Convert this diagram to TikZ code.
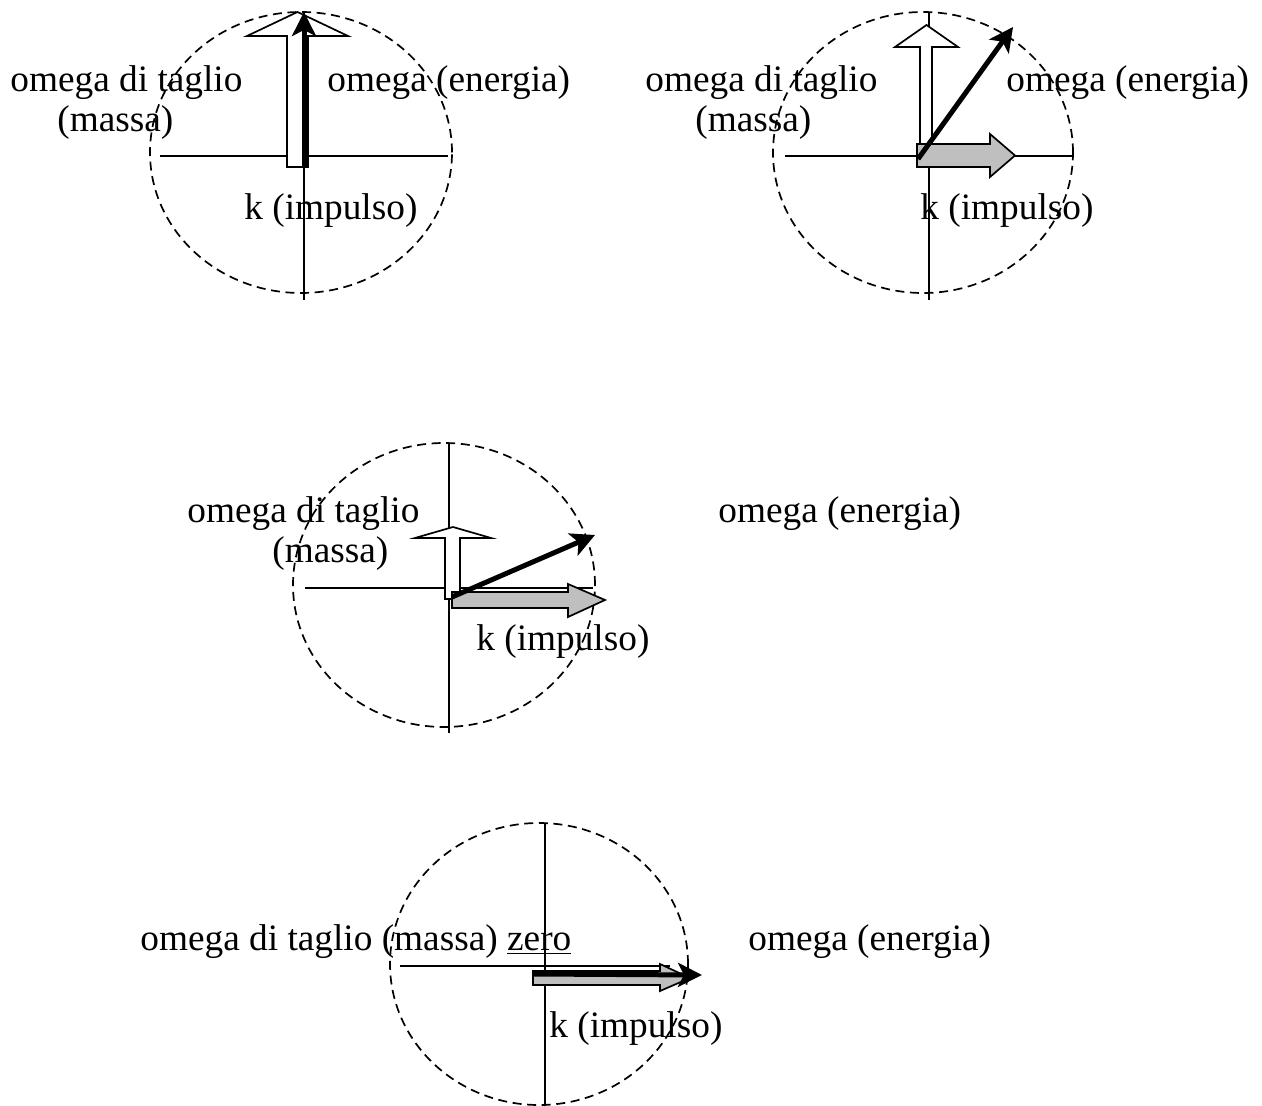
\documentclass[tikz,border=0pt]{standalone}
\usepackage{fontspec}
\setmainfont{Liberation Serif}
\usetikzlibrary{arrows.meta}
\tikzset{
  lbl/.style={inner sep=0pt, anchor=base west, font=\fontsize{18.65pt}{22pt}\selectfont},
  axis/.style={line width=0.85pt},
  ring/.style={line width=0.85pt, dash pattern=on 4.5pt off 2.8pt},
  whitearrow/.style={draw=black, fill=white, line width=0.85pt, line join=miter},
  grayarrow/.style={draw=black, fill=black!25, line width=0.85pt, line join=miter},
  omegaarrow/.style={line width=2.5pt, -{Stealth[length=12pt,width=12pt,inset=3pt]}}
}
\begin{document}
\begin{tikzpicture}[x=0.5pt,y=-0.5pt]
\useasboundingbox (0,0) rectangle (1262,1106);

% ---------- Diagram 1 ----------
\draw[ring] (301,152.5) ellipse [x radius=75.5pt, y radius=70.25pt];
\coordinate (h1l) at (160,156); \coordinate (h1r) at (448,156);
\coordinate (v1t) at (304,12);  \coordinate (v1b) at (304,300);
\draw[axis] (h1l) -- (h1r);
\draw[axis] (v1t) -- (v1b);
\draw[whitearrow] (287,167) -- (287,36) -- (247,36) -- (297.5,12) -- (348,36) -- (308,36) -- (308,167) -- cycle;
\coordinate (o1s) at (304,167); \coordinate (o1e) at (304,12);
\draw[omegaarrow] (o1s) -- (o1e);
\node[lbl] (t1a) at (10,92) {omega di taglio};
\node[lbl] (t1b) at (57,132) {(massa)};
\node[lbl] (t1c) at (327,92) {omega (energia)};
\node[lbl] (t1d) at (244,220) {k (impulso)};

% ---------- Diagram 2 ----------
\draw[ring] (923,152.5) ellipse [x radius=75pt, y radius=70.25pt];
\coordinate (h2l) at (785,156); \coordinate (h2r) at (1073,156);
\coordinate (v2t) at (929,12);  \coordinate (v2b) at (929,300);
\draw[axis] (h2l) -- (h2r);
\draw[axis] (v2t) -- (v2b);
\draw[whitearrow] (920,166) -- (920,47) -- (895,47) -- (926.5,25) -- (958,47) -- (932,47) -- (932,166) -- cycle;
\draw[grayarrow] (917,144) -- (990,144) -- (990,134) -- (1015,155.5) -- (990,177) -- (990,167) -- (917,167) -- cycle;
\coordinate (o2s) at (918,159); \coordinate (o2e) at (1013,27);
\draw[omegaarrow] (o2s) -- (o2e);
\node[lbl] (t2a) at (645,92) {omega di taglio};
\node[lbl] (t2b) at (695,132) {(massa)};
\node[lbl] (t2c) at (1006,92) {omega (energia)};
\node[lbl] (t2d) at (920,220) {k (impulso)};

% ---------- Diagram 3 ----------
\draw[ring] (444,585) ellipse [x radius=75.5pt, y radius=71pt];
\coordinate (h3l) at (305,588); \coordinate (h3r) at (593,588);
\coordinate (v3t) at (449,443); \coordinate (v3b) at (449,733);
\draw[axis] (h3l) -- (h3r);
\draw[axis] (v3t) -- (v3b);
\draw[whitearrow] (445,599) -- (445,538) -- (415,538) -- (453,527) -- (491,538) -- (460,538) -- (460,599) -- cycle;
\draw[grayarrow] (452,592) -- (568,592) -- (568,584) -- (605,600) -- (568,617) -- (568,608) -- (452,608) -- cycle;
\coordinate (o3s) at (452,597); \coordinate (o3e) at (595,535);
\draw[omegaarrow] (o3s) -- (o3e);
\node[lbl] (t3a) at (187,522) {omega di taglio};
\node[lbl] (t3b) at (272,562) {(massa)};
\node[lbl] (t3c) at (718,522) {omega (energia)};
\node[lbl] (t3d) at (476,650) {k (impulso)};

% ---------- Diagram 4 ----------
\draw[ring] (539,964) ellipse [x radius=74.5pt, y radius=70.5pt];
\coordinate (h4l) at (400,966); \coordinate (h4r) at (670,966);
\coordinate (v4t) at (545,823); \coordinate (v4b) at (545,1106);
\draw[axis] (h4l) -- (h4r);
\draw[axis] (v4t) -- (v4b);
\draw[grayarrow] (533,971) -- (660,971) -- (660,964) -- (690,978) -- (660,991) -- (660,985) -- (533,985) -- cycle;
\coordinate (o4s) at (533,974); \coordinate (o4e) at (702,975);
\draw[omegaarrow] (o4s) -- (o4e);
\node[lbl] (t4a) at (140,950) {omega di taglio (massa) \underline{zero}};
\node[lbl] (t4c) at (748,950) {omega (energia)};
\node[lbl] (t4d) at (549,1037) {k (impulso)};
\end{tikzpicture}
\end{document}
